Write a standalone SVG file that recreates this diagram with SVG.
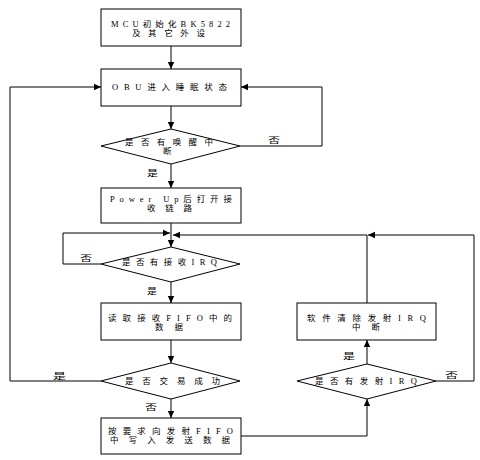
<svg xmlns="http://www.w3.org/2000/svg" width="480" height="460" viewBox="0 0 480 460">
<style>
.n{fill:#fff;stroke:#000;stroke-width:1}
.c{fill:none;stroke:#000;stroke-width:1}
text{font-family:"Liberation Serif","Noto Sans CJK SC",serif;font-size:8.5px;fill:#000;dominant-baseline:central}
</style>
<defs>
<marker id="a" markerUnits="userSpaceOnUse" markerWidth="8" markerHeight="8" viewBox="0 0 8 8" refX="7" refY="4" orient="auto">
<path d="M0,0.8 L7,4 L0,7.2 Z" fill="#000"/>
</marker>
</defs>
<rect width="480" height="460" fill="#fff"/>
<g id="connectors">
<path class="c" d="M171,46 V69" marker-end="url(#a)"/>
<path class="c" d="M171,106 V129" marker-end="url(#a)"/>
<path class="c" d="M240,146 H322 V87 H241" marker-end="url(#a)"/>
<path class="c" d="M171,164 V188" marker-end="url(#a)"/>
<path class="c" d="M171,223 V247" marker-end="url(#a)"/>
<path class="c" d="M101,264 H63 V233 H170" marker-end="url(#a)"/>
<path class="c" d="M171,282 V303" marker-end="url(#a)"/>
<path class="c" d="M171,340 V363" marker-end="url(#a)"/>
<path class="c" d="M101,381 H10 V87 H101" marker-end="url(#a)"/>
<path class="c" d="M171,399 V418" marker-end="url(#a)"/>
<path class="c" d="M241,436 H367 V399" marker-end="url(#a)"/>
<path class="c" d="M367,364 V340" marker-end="url(#a)"/>
<path class="c" d="M367,303 V235 H173" marker-end="url(#a)"/>
<path class="c" d="M436,381 H474 V235 H368" marker-end="url(#a)"/>
<text x="268" y="140" textLength="12" lengthAdjust="spacingAndGlyphs">否</text>
<text x="147" y="173" textLength="11" lengthAdjust="spacingAndGlyphs">是</text>
<text x="80" y="258" textLength="12" lengthAdjust="spacingAndGlyphs">否</text>
<text x="147" y="291" textLength="10" lengthAdjust="spacingAndGlyphs">是</text>
<text x="53" y="376" textLength="13" lengthAdjust="spacingAndGlyphs">是</text>
<text x="145" y="407" textLength="12" lengthAdjust="spacingAndGlyphs">否</text>
<text x="343" y="356" textLength="12" lengthAdjust="spacingAndGlyphs">是</text>
<text x="445" y="375" textLength="13" lengthAdjust="spacingAndGlyphs">否</text>
</g>
<g id="init">
<rect class="n" x="101" y="9" width="140" height="37"/>
<text x="111" y="23.5" textLength="119" lengthAdjust="spacing">MCU初始化BK5822</text>
<text x="132" y="32.5" textLength="73" lengthAdjust="spacing">及其它外设</text>
</g>
<g id="sleep">
<rect class="n" x="101" y="69" width="140" height="37"/>
<text x="112" y="87" textLength="115" lengthAdjust="spacing">OBU进入睡眠状态</text>
</g>
<g id="wake">
<polygon class="n" points="171,129 240,146 171,164 101,146"/>
<text x="125" y="141.5" textLength="88" lengthAdjust="spacing">是否有唤醒中</text>
<text x="163" y="150.5" textLength="10" lengthAdjust="spacing">断</text>
</g>
<g id="powerup">
<rect class="n" x="101" y="188" width="140" height="35"/>
<text x="110" y="199" textLength="122" lengthAdjust="spacing">Power Up后打开接</text>
<text x="147" y="208" textLength="45" lengthAdjust="spacing">收链路</text>
</g>
<g id="rxirq">
<polygon class="n" points="171,247 240,264 171,282 101,264"/>
<text x="122" y="262" textLength="95" lengthAdjust="spacing">是否有接收IRQ</text>
</g>
<g id="readfifo">
<rect class="n" x="101" y="303" width="140" height="37"/>
<text x="108" y="318" textLength="124" lengthAdjust="spacing">读取接收FIFO中的</text>
<text x="155" y="327" textLength="28" lengthAdjust="spacing">数据</text>
</g>
<g id="success">
<polygon class="n" points="171,363 240,381 171,399 101,381"/>
<text x="125" y="381" textLength="95" lengthAdjust="spacing">是否交易成功</text>
</g>
<g id="writefifo">
<rect class="n" x="101" y="418" width="140" height="36"/>
<text x="108" y="431" textLength="125" lengthAdjust="spacing">按要求向发射FIFO</text>
<text x="110" y="440" textLength="120" lengthAdjust="spacing">中写入发送数据</text>
</g>
<g id="txirq">
<polygon class="n" points="367,364 436,381 367,399 297,381"/>
<text x="315" y="381" textLength="102" lengthAdjust="spacing">是否有发射IRQ</text>
</g>
<g id="clearirq">
<rect class="n" x="297" y="303" width="139" height="37"/>
<text x="307" y="318" textLength="119" lengthAdjust="spacing">软件清除发射IRQ</text>
<text x="352" y="327" textLength="28" lengthAdjust="spacing">中断</text>
</g>
</svg>
